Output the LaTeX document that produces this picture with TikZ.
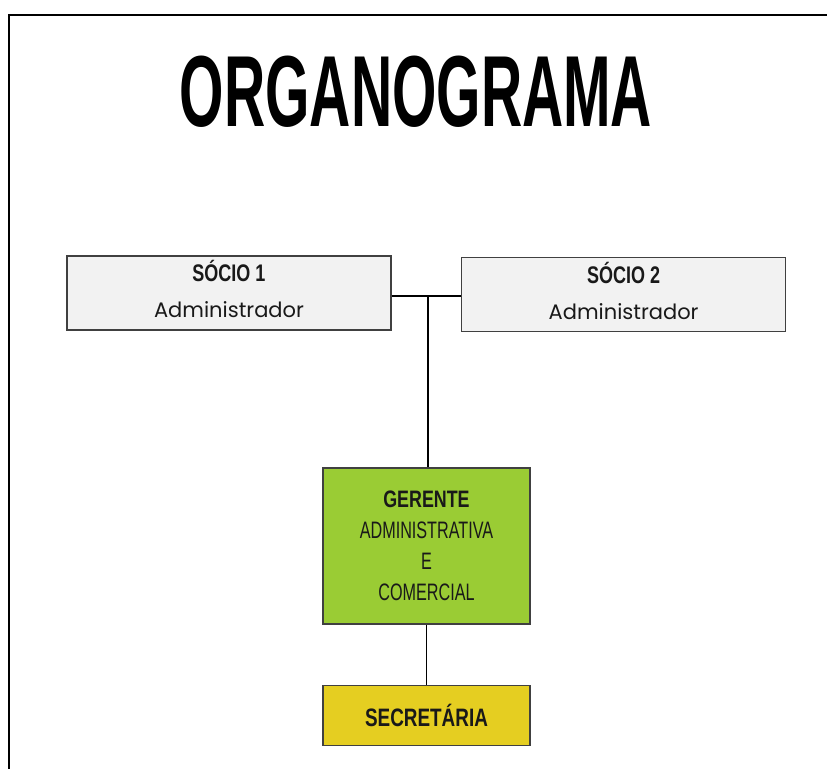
\documentclass[tikz,border=0pt]{standalone}
\usepackage{fontspec}
\usepackage{tikz}
\usetikzlibrary{positioning}
\newfontfamily\titlefont[FakeStretch=0.565]{Liberation Sans}
\newfontfamily\condfont[FakeStretch=0.68]{Liberation Sans}
\newfontfamily\condbold[FakeStretch=0.75]{Liberation Sans}
\newfontfamily\geofont{Poppins}
\definecolor{boxgray}{RGB}{242,242,242}
\definecolor{gerentegreen}{RGB}{154,204,52}
\definecolor{secyellow}{RGB}{229,206,33}
\definecolor{boxline}{RGB}{64,64,64}

\begin{document}
\begin{tikzpicture}[
      x=0.5pt, y=-0.5pt,
      mybox/.style={
         rectangle,
         draw=boxline,
         line width=0.8pt,
         inner sep=0pt,
         align=center,
         text=black!90},
      sociobox/.style={
         mybox,
         fill=boxgray,
         minimum width=162pt,
         minimum height=37pt,
         text depth=4pt,
         font=\fontsize{12}{18}\selectfont},
      gerentebox/.style={
         mybox,
         fill=gerentegreen,
         minimum width=103.5pt,
         minimum height=78pt,
         font=\fontsize{11.9}{15.5}\selectfont},
      secbox/.style={
         mybox,
         fill=secyellow,
         minimum width=103.5pt,
         minimum height=30pt,
         font=\condbold\bfseries\fontsize{12.6}{15}\selectfont},
      myline/.style={draw=black, line width=0.6pt},
      node distance=30pt and 34.5pt
      ]
      \useasboundingbox (0,0) rectangle (827,769);
      % frame
      \draw [line width=1pt] (827,15) -- (9,15) -- (9,769);

      \node[font=\titlefont\bfseries\fontsize{50.5}{50.5}\selectfont] (titulo) at (416,92) {ORGANOGRAMA};

      \node[sociobox] (s1) at (229,293) {{\condbold\bfseries SÓCIO 1}\\{\geofont\fontsize{10.5}{18}\selectfont Administrador}};
      \node[sociobox, right=of s1, yshift=-0.75pt] (s2) {{\condbold\bfseries SÓCIO 2}\\{\geofont\fontsize{10.5}{18}\selectfont Administrador}};
      \node[gerentebox] (ger) at (426.5,546) {{\condbold\bfseries GERENTE}\\{\condfont ADMINISTRATIVA}\\{\condfont E}\\{\condfont COMERCIAL}};
      \node[secbox, below=of ger] (sec) {SECRETÁRIA};

      % connectors
      \coordinate (j) at (428,296);
      \draw [myline] (s1.east |- j) -- (s2.west |- j);
      \draw [myline] (j) -- (j |- ger.north);
      \draw [myline] (ger) -- (sec);
    \end{tikzpicture}
\end{document}
